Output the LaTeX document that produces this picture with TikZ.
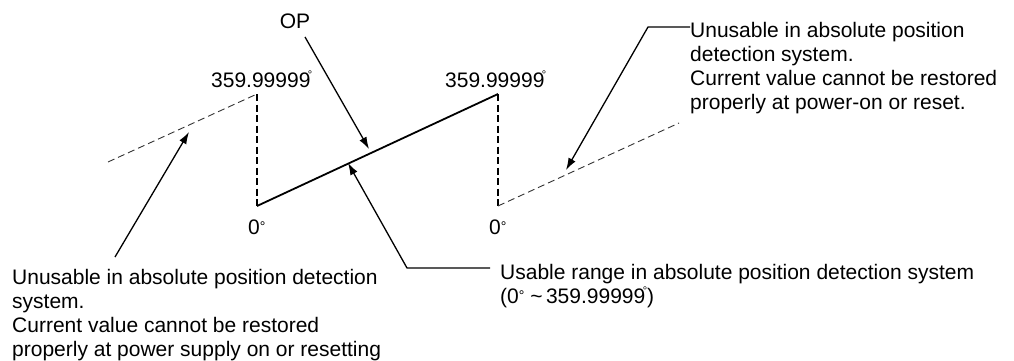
\documentclass[tikz,border=0pt]{standalone}
\usepackage{fontspec}
\setmainfont{Liberation Sans}
\definecolor{ink}{HTML}{000000}
\usepackage{tikz}
\usetikzlibrary{arrows.meta,calc}
\newcommand{\degsm}{\kern-2.5pt\raisebox{9pt}{\fontsize{11}{11}\selectfont °}}
\newcommand{\degzero}{\raisebox{3pt}{\fontsize{14}{14}\selectfont °}}

\begin{document}
\begin{tikzpicture}[x=1pt,y=-1pt,every node/.style={font=\fontsize{21}{24}\selectfont,inner sep=0pt,text=ink}]
\tikzstyle{ramp}=[ink,line width=1.8pt]
\tikzstyle{ghost}=[ink!80,line width=0.9pt,dash pattern=on 7pt off 4pt]
\tikzstyle{drop}=[ink,line width=1.2pt,dash pattern=on 7pt off 3.5pt]
\tikzstyle{lead}=[ink,line width=1.3pt,-{Latex[length=12pt,width=8pt]}]
\tikzstyle{note}=[align=left,anchor=north west]
\useasboundingbox (0,0) rectangle (1014,361);
% sawtooth
\coordinate (startL) at (108,162);
\coordinate (topA) at (257,94);
\coordinate (zeroA) at (257,206);
\coordinate (topB) at (498,94);
\coordinate (zeroB) at (498,206);
\coordinate (endR) at (679,123);
\draw[ghost] (startL)--(topA);
\draw[drop] (topA)--(zeroA);
\draw[ramp] (zeroA)--(topB);
\draw[drop] (topB)--(zeroB);
\draw[ghost] (zeroB)--(endR);
% values
\node[anchor=base west] (maxA) at (211,87) {359.99999\degsm};
\node[anchor=base west] (maxB) at (445,87) {359.99999\degsm};
\node[anchor=base west] (minA) at (248,234) {0\degzero};
\node[anchor=base west] (minB) at (489,234) {0\degzero};
\node[anchor=base] (op) at (295,29) {OP};
% notes
\node[note] (noteL) at (12,269) {Unusable in absolute position detection\\system.\\Current value cannot be restored\\properly at power supply on or resetting};
\node[note] (noteU) at (500,264) {Usable range in absolute position detection system\\(0\degzero\ \textasciitilde\,359.99999\degsm)};
\node[note] (noteR) at (690,22) {Unusable in absolute position\\detection system.\\Current value cannot be restored\\properly at power-on or reset.};
% leaders
\coordinate (opTail) at (305,37);
\coordinate (opTip) at (369,149);
\coordinate (leftTail) at (115,257);
\coordinate (leftTip) at (189,132);
\coordinate (usableEnd) at (490,268);
\coordinate (usableKnee) at (407,268);
\coordinate (usableTip) at (348,163);
\coordinate (rightEnd) at (690,27);
\coordinate (rightKnee) at (648,27);
\coordinate (rightTip) at (566,170);
\draw[lead] (opTail)--(opTip);
\draw[lead] (leftTail)--(leftTip);
\draw[lead] (usableEnd)--(usableKnee)--(usableTip);
\draw[lead] (rightEnd)--(rightKnee)--(rightTip);
\end{tikzpicture}
\end{document}
